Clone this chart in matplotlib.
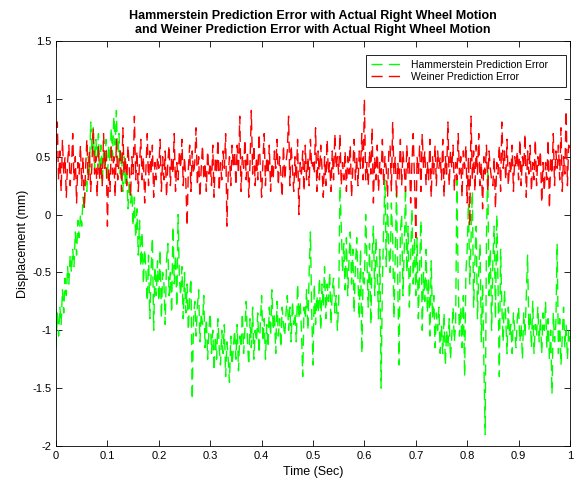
import numpy as np
import matplotlib
matplotlib.use("Agg")
import matplotlib.pyplot as plt

plt.rcParams['font.family'] = ['Liberation Sans', 'DejaVu Sans']

# time axis, 0.0025 s step
t = np.linspace(0, 1, 401)

# Hammerstein prediction error, 20 samples per row = 0.05 s
hammerstein = [
    -1.15, -0.85, -1.05, -0.8, -0.95, -0.65, -0.85, -0.55, -0.7, -0.45, -0.6, -0.35, -0.5, -0.3, -0.45, -0.15, -0.35, -0.05, -0.2, 0.0,
    -0.1, 0.15, 0.05, 0.3, 0.2, 0.5, 0.35, 0.8, 0.55, 0.75, 0.4, 0.65, 0.5, 0.7, 0.35, 0.6, 0.25, 0.55, 0.4, 0.65,
    0.3, 0.6, 0.45, 0.75, 0.5, 0.85, 0.6, 0.9, 0.45, 0.7, 0.35, 0.55, 0.2, 0.5, 0.25, 0.4, 0.05, 0.3, 0.1, 0.2,
    -0.1, 0.15, -0.2, 0.05, -0.35, -0.05, -0.45, -0.15, -0.6, -0.3, -0.5, -0.75, -0.35, -0.9, -0.5, -0.2, -1.0, -0.45, -0.7, -0.4,
    -0.75, -0.3, -0.9, -0.5, -0.6, -0.95, -0.4, -0.25, -0.7, -0.5, -0.85, -0.1, -0.6, -0.35, -0.8, 0.0, -0.55, -0.7, -0.45, -0.9,
    -0.5, -0.85, -0.6, -1.0, -0.7, -0.55, -1.6, -0.9, -0.75, -1.05, -0.8, -0.65, -1.1, -0.85, -0.95, -0.7, -1.15, -0.9, -1.25, -1.0,
    -0.85, -1.2, -1.0, -1.35, -1.05, -1.25, -0.9, -1.15, -1.3, -1.0, -1.2, -0.95, -1.4, -1.1, -1.25, -1.45, -1.05, -1.3, -1.15, -1.0,
    -1.25, -0.95, -1.35, -1.05, -1.15, -0.85, -1.2, -1.0, -0.75, -1.1, -1.3, -0.9, -1.15, -0.8, -1.25, -1.0, -1.1, -0.85, -1.2, -0.95,
    -0.7, -1.1, -0.9, -1.25, -0.95, -1.15, -0.8, -1.05, -0.65, -1.0, -0.85, -1.2, -0.75, -1.05, -0.9, -1.15, -0.8, -0.95, -1.05, -0.85,
    -0.7, -1.0, -0.8, -1.1, -0.75, -0.95, -0.85, -1.1, -0.6, -0.9, -0.75, -1.0, -1.4, -0.8, -0.9, -0.65, -1.0, -0.5, -0.15, -0.85,
    -1.3, -0.6, -0.95, -0.7, -0.85, -0.55, -1.0, -0.6, -0.8, -0.45, -0.9, -0.6, -0.75, -0.5, -0.95, -0.65, -0.55, -0.85, -0.7, -1.0,
    -0.75, 0.25, -0.1, -0.5, -0.25, -0.65, -0.2, -0.7, -0.4, -0.15, -0.6, -0.3, -0.85, -0.45, -0.2, -0.55, -0.9, -0.3, -1.2, -0.5,
    -0.6, 0.0, -0.4, -0.8, -0.25, -0.95, -0.35, -0.1, -0.7, -0.2, -0.5, -0.9, -0.3, -1.5, -0.6, -0.1, 0.3, -0.45, 0.1, -0.3,
    -0.5, 0.1, -0.2, -0.9, -0.35, 0.2, -0.6, -1.3, -0.15, 0.0, -0.7, -0.3, 0.25, -0.5, -0.1, -0.8, -0.4, 0.05, -0.6, -0.2,
    -0.7, -0.2, -0.9, -0.45, -0.05, -1.0, -0.5, -0.75, -0.3, -0.85, -0.55, -1.05, -0.4, -0.9, -0.7, -1.15, -0.85, -1.0, -0.8, -1.2,
    -0.95, -1.2, -0.85, -1.3, -1.0, -1.15, -0.9, -1.25, -1.05, -0.8, -1.1, -0.95, 0.3, -0.6, -1.05, -0.8, -1.15, -0.7, -1.4, -0.5,
    -0.3, 0.1, -0.6, -0.2, 0.2, -0.8, -0.4, -0.1, -0.9, -0.5, -0.25, -1.1, -0.6, -1.3, -1.9, -0.2, 0.4, -0.7, -0.3, -1.0,
    -0.4, -0.1, -0.9, 0.0, -0.6, -1.4, -0.3, -0.8, -1.1, -0.65, -0.9, -1.2, -0.8, -1.05, -0.95, -1.2, -0.85, -1.0, -1.15, -0.9,
    -0.8, -1.1, -0.95, -1.25, -0.85, -1.05, -0.7, -0.35, -1.0, -0.85, -1.15, -0.75, -1.2, -0.95, -1.05, -0.8, -1.1, -0.9, -1.2, -0.85,
    -1.0, -0.75, -1.15, -0.9, -1.25, -1.0, -1.55, -0.85, -1.1, -0.95, -0.25, -1.2, -0.9, -1.3, -1.05, -0.8, -1.15, -0.95, -1.25, -1.0,
    -1.1,
]

# Weiner prediction error
weiner = [
    0.45, 0.8, 0.3, 0.55, 0.2, 0.65, 0.35, 0.5, 0.15, 0.45, 0.6, 0.25, 0.4, 0.7, 0.3, 0.5, 0.1, 0.45, 0.35, 0.6,
    0.25, 0.5, 0.05, 0.4, 0.65, 0.3, 0.55, 0.2, 0.45, 0.75, 0.35, 0.5, 0.15, 0.6, 0.3, 0.45, 0.25, 0.7, 0.4, 0.55,
    -0.1, 0.4, 0.2, 0.6, 0.35, 0.5, 0.15, 0.65, 0.3, 0.45, 0.55, 0.2, 0.75, 0.35, 0.5, 0.25, 0.6, 0.4, 0.15, 0.5,
    0.35, 0.85, 0.3, 0.55, 0.2, 0.45, 0.65, 0.3, 0.5, 0.1, 0.4, 0.7, 0.25, 0.55, 0.35, 0.6, 0.15, 0.45, 0.3, 0.5,
    0.4, 0.65, 0.2, 0.5, 0.3, 0.55, 0.15, 0.45, 0.6, 0.25, 0.5, 0.35, 0.7, 0.2, 0.45, 0.3, 0.55, 0.4, 0.65, 0.25,
    0.5, 0.3, -0.1, 0.4, 0.6, 0.2, 0.55, 0.35, 0.45, 0.75, 0.25, 0.5, 0.15, 0.4, 0.6, 0.3, 0.45, 0.2, 0.55, 0.35,
    0.45, 0.25, 0.6, 0.15, 0.5, 0.35, 0.65, 0.2, 0.45, 0.3, 0.55, 0.4, 0.7, -0.1, 0.35, 0.5, 0.25, 0.6, 0.4, 0.55,
    0.25, 0.6, 0.35, 0.85, 0.2, 0.5, 0.4, 0.65, 0.3, 0.55, 0.15, 0.45, 0.9, 0.35, 0.6, 0.25, 0.5, 0.3, 0.7, 0.4,
    0.15, 0.45, 0.7, 0.25, 0.5, 0.35, 0.6, 0.2, 0.45, 0.3, 0.55, 0.4, 0.65, 0.25, 0.5, 0.35, 0.15, 0.6, 0.3, 0.45,
    0.55, 0.85, 0.25, 0.6, 0.4, 0.2, 0.5, 0.3, 0.65, 0.0, 0.45, 0.35, 0.55, 0.2, 0.6, 0.3, 0.5, 0.25, 0.65, 0.4,
    0.45, 0.35, 0.75, 0.2, 0.55, 0.3, 0.6, 0.4, 0.15, 0.5, 0.25, 0.65, 0.35, 0.45, 0.2, 0.55, 0.3, 0.7, 0.4, 0.5,
    0.35, 0.7, 0.25, 0.45, 0.3, 0.55, 0.2, 0.5, 0.35, 0.6, 0.15, 0.4, 0.65, 0.3, 0.5, 0.25, 0.55, 0.4, 0.7, 0.3,
    1.0, 0.3, 0.45, 0.25, 0.55, 0.35, 0.75, 0.1, 0.5, 0.3, 0.6, 0.2, 0.45, 0.35, 0.65, 0.25, 0.5, 0.4, 0.15, 0.55,
    0.6, 0.2, 0.8, 0.35, 0.5, 0.15, 0.45, 0.3, 0.65, 0.25, 0.55, 0.4, 0.2, 0.6, 0.35, 0.5, 0.1, 0.45, 0.7, 0.3,
    -0.2, 0.5, 0.35, 0.6, 0.2, 0.7, 0.4, 0.55, 0.25, 0.45, 0.3, 0.65, 0.15, 0.5, 0.35, 0.6, 0.25, 0.55, 0.4, 0.5,
    0.3, 0.65, 0.15, 0.5, 0.35, 0.8, 0.25, 0.55, 0.4, 0.6, 0.2, 0.45, 0.3, 0.7, 0.35, 0.5, 0.15, 0.55, 0.4, 0.6,
    0.1, 0.5, -0.1, 0.85, 0.3, 0.55, 0.2, 0.6, 0.35, 0.7, 0.25, 0.45, 0.05, 0.5, 0.35, 0.6, 0.2, 0.55, 0.4, 0.3,
    0.25, 0.5, 0.05, 0.45, 0.35, 0.6, 0.2, 0.8, 0.4, 0.55, 0.3, 0.65, 0.25, 0.45, 0.35, 0.6, 0.2, 0.5, 0.4, 0.55,
    0.3, 0.65, 0.25, 0.5, 0.4, 0.7, 0.15, 0.55, 0.35, 0.6, 0.2, 0.45, 0.3, 0.65, 0.25, 0.5, 0.4, 0.55, 0.1, 0.45,
    0.2, 0.45, 0.3, 0.65, 0.05, 0.5, 0.35, 0.7, 0.25, 0.55, 0.4, 0.6, 0.3, 0.75, 0.2, 0.5, 0.35, 0.9, 0.25, 0.6,
    0.55,
]

xticks = np.arange(0, 1.01, 0.1)
xlabels = ["0", "0.1", "0.2", "0.3", "0.4", "0.5", "0.6", "0.7", "0.8", "0.9", "1"]
yticks = np.arange(-2, 1.51, 0.5)
ylabels = ["-2", "-1.5", "-1", "-0.5", "0", "0.5", "1", "1.5"]

fig = plt.figure(figsize=(5.74, 4.86), dpi=100)
ax = fig.add_axes([0.0976, 0.0823, 0.8954, 0.8333])

ax.plot(t, hammerstein, color=(0, 1, 0), lw=1.0, dashes=(8, 4.5),
        label='Hammerstein Prediction Error')
ax.plot(t, weiner, color=(1, 0, 0), lw=1.0, dashes=(8, 4.5),
        label='Weiner Prediction Error')

ax.set_xlim(0, 1)
ax.set_ylim(-2, 1.5)
ax.set_xticks(xticks)
ax.set_xticklabels(xlabels)
ax.set_yticks(yticks)
ax.set_yticklabels(ylabels)
ax.tick_params(direction='in', top=True, right=True, labelsize=8, length=4, width=0.6)
for s in ax.spines.values():
    s.set_linewidth(0.6)

ax.set_xlabel('Time (Sec)', fontsize=9)
ax.set_ylabel('Displacement (mm)', fontsize=9, labelpad=2)
ax.set_title('Hammerstein Prediction Error with Actual Right Wheel Motion\n'
             'and Weiner Prediction Error with Actual Right Wheel Motion',
             fontsize=9, fontweight='bold', pad=6)

leg = ax.legend(loc='upper left', bbox_to_anchor=(0.603, 0.965, 0.389, 0), mode='expand',
                borderaxespad=0, fontsize=7.5, fancybox=False, framealpha=1,
                edgecolor='black', handlelength=3.2, handletextpad=0.7,
                labelspacing=0.2, borderpad=0.45)
leg.get_frame().set_linewidth(0.6)

fig.savefig('out.png', dpi=100)
